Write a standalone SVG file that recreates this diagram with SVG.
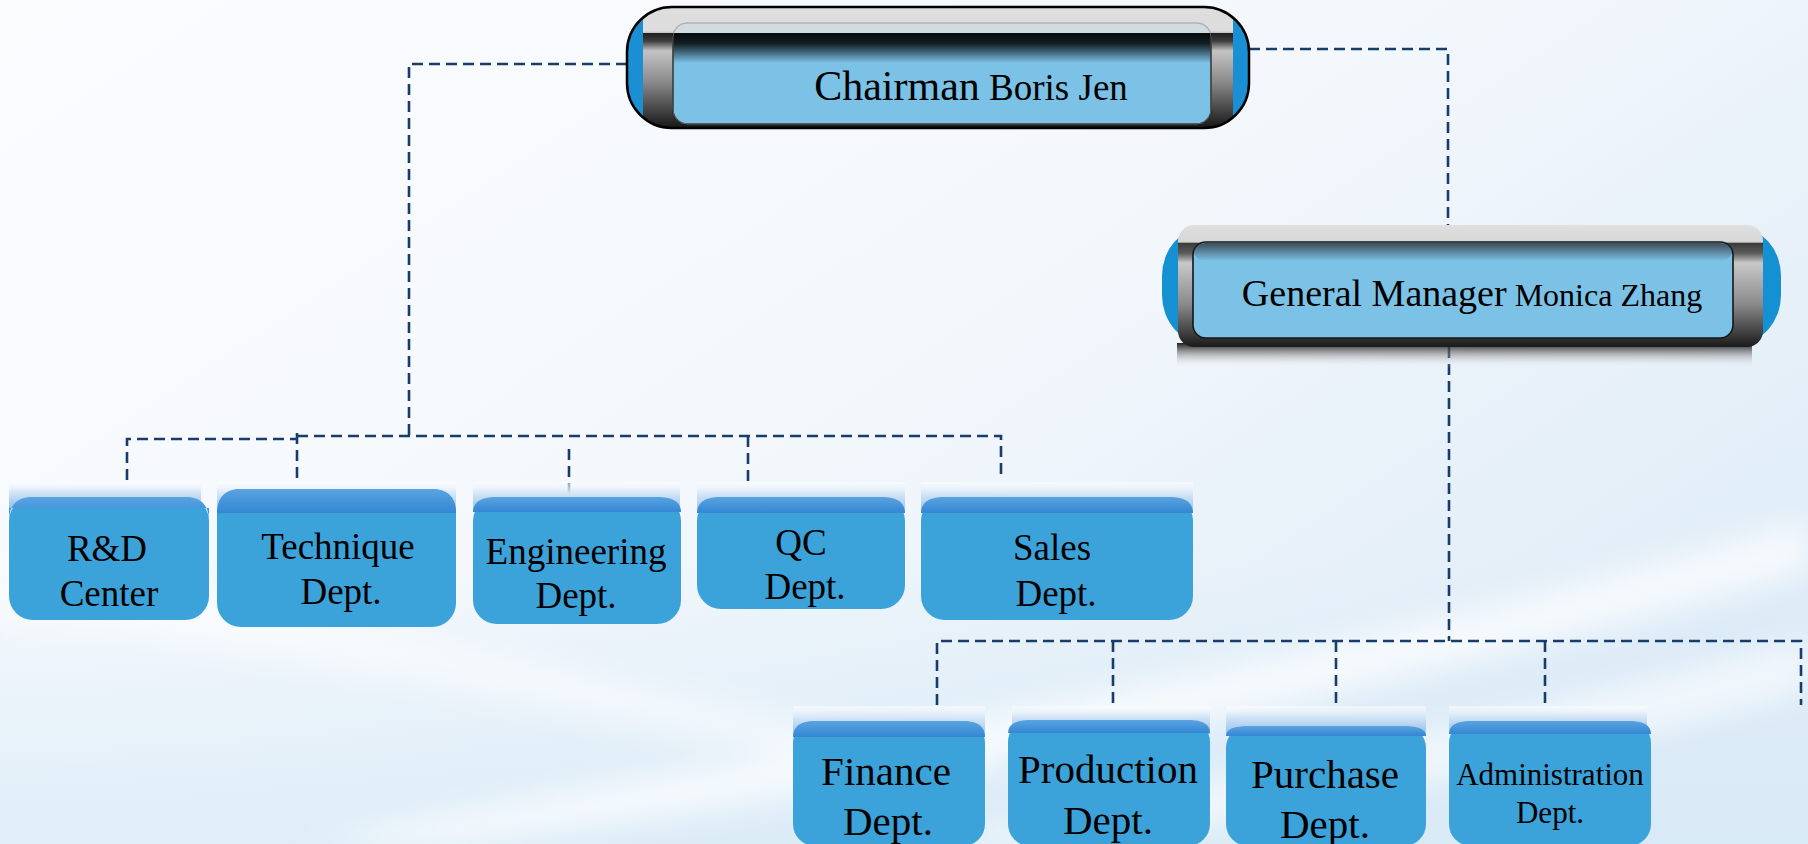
<svg xmlns="http://www.w3.org/2000/svg" width="1808" height="844" viewBox="0 0 1808 844">
<defs>
<style>
.t{font-family:"Liberation Serif","Times New Roman",serif;fill:#000;text-anchor:middle}
.t1{font-size:37px}
.t2{font-size:41px}
.conn{fill:none;stroke:#173d6a;stroke-width:2.6;stroke-dasharray:11 6}
.box{fill:#3ba3da}
.cap{fill:url(#capG)}
.band{fill:url(#bandG)}
.panel{fill:#7bc2e6;stroke:#161616;stroke-width:1.6}
</style>
<linearGradient id="bg" x1="0" y1="0" x2="1" y2="0.7">
<stop offset="0" stop-color="#fbfcfe"/>
<stop offset="0.5" stop-color="#f4f8fc"/>
<stop offset="1" stop-color="#dfecf7"/>
</linearGradient>
<linearGradient id="bgBottom" x1="0" y1="0" x2="0" y2="1">
<stop offset="0" stop-color="#d6e9f6" stop-opacity="0"/>
<stop offset="1" stop-color="#d6e9f6" stop-opacity="0.7"/>
</linearGradient>
<linearGradient id="capG" x1="0" y1="0" x2="0" y2="1">
<stop offset="0" stop-color="#ffffff" stop-opacity="0.5"/>
<stop offset="0.4" stop-color="#d2e4f6"/>
<stop offset="1" stop-color="#92bfea"/>
</linearGradient>
<linearGradient id="bandG" x1="0" y1="0" x2="0" y2="1">
<stop offset="0" stop-color="#5aa3e0"/>
<stop offset="1" stop-color="#3387d4"/>
</linearGradient>
<linearGradient id="frameC" x1="0" y1="0" x2="0" y2="1">
<stop offset="0" stop-color="#dadada"/>
<stop offset="0.21" stop-color="#d2d2d2"/>
<stop offset="0.22" stop-color="#1c1c1c"/>
<stop offset="0.29" stop-color="#3c3c3c"/>
<stop offset="0.37" stop-color="#c4c4c4"/>
<stop offset="0.62" stop-color="#8a8a8a"/>
<stop offset="1" stop-color="#141414"/>
</linearGradient>
<linearGradient id="frameG" x1="0" y1="0" x2="0" y2="1">
<stop offset="0" stop-color="#e0e0e0"/>
<stop offset="0.14" stop-color="#d6d6d6"/>
<stop offset="0.15" stop-color="#3c3c3c"/>
<stop offset="0.23" stop-color="#5a5a5a"/>
<stop offset="0.31" stop-color="#c8c8c8"/>
<stop offset="0.65" stop-color="#8a8a8a"/>
<stop offset="1" stop-color="#1a1a1a"/>
</linearGradient>
<linearGradient id="panelTopC" x1="0" y1="0" x2="0" y2="1">
<stop offset="0" stop-color="#000" stop-opacity="0.95"/>
<stop offset="0.35" stop-color="#000" stop-opacity="0.85"/>
<stop offset="1" stop-color="#000" stop-opacity="0"/>
</linearGradient>
<linearGradient id="panelTopG" x1="0" y1="0" x2="0" y2="1">
<stop offset="0" stop-color="#3a4652" stop-opacity="0.95"/>
<stop offset="1" stop-color="#3a4652" stop-opacity="0"/>
</linearGradient>
<linearGradient id="refl" x1="0" y1="0" x2="0" y2="1">
<stop offset="0" stop-color="#111" stop-opacity="0.95"/>
<stop offset="1" stop-color="#fff" stop-opacity="0"/>
</linearGradient>
<clipPath id="capsC"><rect x="627" y="7" width="622" height="121" rx="45" ry="45"/></clipPath>
<filter id="blur" x="-20%" y="-20%" width="140%" height="140%"><feGaussianBlur stdDeviation="14"/></filter>
</defs>

<g id="background">
<rect width="1808" height="844" fill="url(#bg)"/>
<rect y="560" width="1808" height="284" fill="url(#bgBottom)"/>
<g filter="url(#blur)" fill="#ffffff">
<path d="M300 844 C700 760 1200 700 1808 520 L1808 570 C1250 730 800 800 450 844 Z" opacity="0.7"/>
<path d="M900 844 C1200 790 1500 720 1808 640 L1808 690 C1550 760 1300 810 1100 844 Z" opacity="0.6"/>
<path d="M0 560 C300 600 600 680 1000 760 L950 790 C600 720 300 650 0 620 Z" opacity="0.5"/>
</g>
</g>

<g id="connectors">
<path class="conn" d="M627 64 H409 V435"/>
<path class="conn" d="M127 480 V439 H297"/>
<path class="conn" d="M297 433 V478"/>
<path class="conn" d="M297 436 H1001 V478"/>
<path class="conn" d="M748 436 V481"/>
<path class="conn" d="M569 449 V512"/>
<path class="conn" d="M1249 49 H1448 V225"/>
<path class="conn" d="M1449 347 V641"/>
<path class="conn" d="M937 705 V641 H1801 V705"/>
<path class="conn" d="M1113 641 V705"/>
<path class="conn" d="M1336 641 V705"/>
<path class="conn" d="M1545 641 V705"/>
</g>

<g id="chairman">
<rect x="627" y="7" width="622" height="121" rx="45" ry="45" fill="#1a8fd4"/>
<g clip-path="url(#capsC)">
<rect x="643" y="5" width="590" height="124" fill="url(#frameC)"/>
<rect x="673" y="23" width="538" height="101" rx="14" class="panel"/>
<rect x="673" y="33" width="538" height="30" fill="url(#panelTopC)"/>
<rect x="643" y="5" width="590" height="28" fill="#dedede" opacity="0.88"/>
<rect x="673" y="23" width="538" height="101" rx="14" fill="none" stroke="#9a9a9a" stroke-width="1" opacity="0.6"/>
</g>
<rect x="627" y="7" width="622" height="121" rx="45" ry="45" fill="none" stroke="#000" stroke-width="2.5"/>
<text class="t" x="971" y="100"><tspan font-size="42">Chairman</tspan><tspan font-size="37"> Boris Jen</tspan></text>
</g>

<g id="general-manager">
<rect x="1177" y="343" width="575" height="25" fill="url(#refl)"/>
<rect x="1162" y="228" width="619" height="115" rx="42" ry="48" fill="#1590d3"/>
<rect x="1178" y="225" width="585" height="122" rx="16" fill="url(#frameG)"/>
<rect x="1193" y="242" width="540" height="96" rx="13" class="panel"/>
<rect x="1194" y="243" width="538" height="18" rx="12" fill="url(#panelTopG)"/>
<text class="t" x="1472" y="306"><tspan font-size="38">General Manager</tspan><tspan font-size="32"> Monica Zhang</tspan></text>
</g>

<g id="rd-center">
<rect class="cap" x="9" y="482" width="192" height="26"/>
<rect class="box" x="9" y="497" width="200" height="123" rx="24"/>
<path class="band" d="M9 508 V521 Q9 497 33 497 H185 Q209 497 209 521 V508 Z"/>
<text class="t t1" x="107" y="561">R&amp;D</text>
<text class="t t1" x="109" y="606">Center</text>
</g>

<g id="technique-dept">
<rect class="cap" x="217" y="482" width="239" height="31"/>
<rect class="box" x="217" y="489" width="239" height="138" rx="24"/>
<path class="band" d="M217 513 Q217 489 241 489 H432 Q456 489 456 513 Z"/>
<text class="t t1" x="338" y="559">Technique</text>
<text class="t t1" x="341" y="604">Dept.</text>
</g>

<g id="engineering-dept">
<rect class="cap" x="473" y="482" width="207" height="30"/>
<rect class="box" x="473" y="497" width="208" height="127" rx="24"/>
<path class="band" d="M473 512 Q473 497 497 497 H657 Q681 497 681 512 Z"/>
<text class="t t1" x="576" y="564">Engineering</text>
<text class="t t1" x="576" y="608">Dept.</text>
</g>

<g id="qc-dept">
<rect class="cap" x="697" y="482" width="208" height="31"/>
<rect class="box" x="697" y="497" width="208" height="112" rx="24"/>
<path class="band" d="M697 513 Q697 497 721 497 H881 Q905 497 905 513 Z"/>
<text class="t t1" x="801" y="555">QC</text>
<text class="t t1" x="805" y="599">Dept.</text>
</g>

<g id="sales-dept">
<rect class="cap" x="921" y="482" width="272" height="31"/>
<rect class="box" x="921" y="497" width="272" height="123" rx="24"/>
<path class="band" d="M921 513 Q921 497 945 497 H1169 Q1193 497 1193 513 Z"/>
<text class="t t1" x="1052" y="560">Sales</text>
<text class="t t1" x="1056" y="606">Dept.</text>
</g>

<g id="finance-dept">
<rect class="cap" x="793" y="706" width="192" height="31"/>
<rect class="box" x="793" y="721" width="192" height="125" rx="22"/>
<path class="band" d="M793 737 Q793 721 815 721 H963 Q985 721 985 737 Z"/>
<text class="t t2" x="886" y="785">Finance</text>
<text class="t t2" x="888" y="835">Dept.</text>
</g>

<g id="production-dept">
<rect class="cap" x="1012" y="706" width="198" height="28"/>
<rect class="box" x="1008" y="720" width="202" height="126" rx="22"/>
<path class="band" d="M1008 733 Q1008 720 1030 720 H1188 Q1210 720 1210 733 Z"/>
<text class="t t2" x="1108" y="783">Production</text>
<text class="t t2" x="1108" y="834">Dept.</text>
</g>

<g id="purchase-dept">
<rect class="cap" x="1226" y="706" width="200" height="28"/>
<rect class="box" x="1226" y="726" width="200" height="120" rx="22"/>
<path class="band" d="M1226 736 Q1226 726 1248 726 H1404 Q1426 726 1426 736 Z"/>
<text class="t t2" x="1325" y="788">Purchase</text>
<text class="t t2" x="1325" y="838">Dept.</text>
</g>

<g id="administration-dept">
<rect class="cap" x="1449" y="706" width="198" height="28"/>
<rect class="box" x="1449" y="721" width="202" height="125" rx="22"/>
<path class="band" d="M1449 734 Q1449 721 1471 721 H1629 Q1651 721 1651 734 Z"/>
<text class="t" x="1550" y="785" font-size="31">Administration</text>
<text class="t" x="1550" y="823" font-size="31">Dept.</text>
</g>
</svg>
